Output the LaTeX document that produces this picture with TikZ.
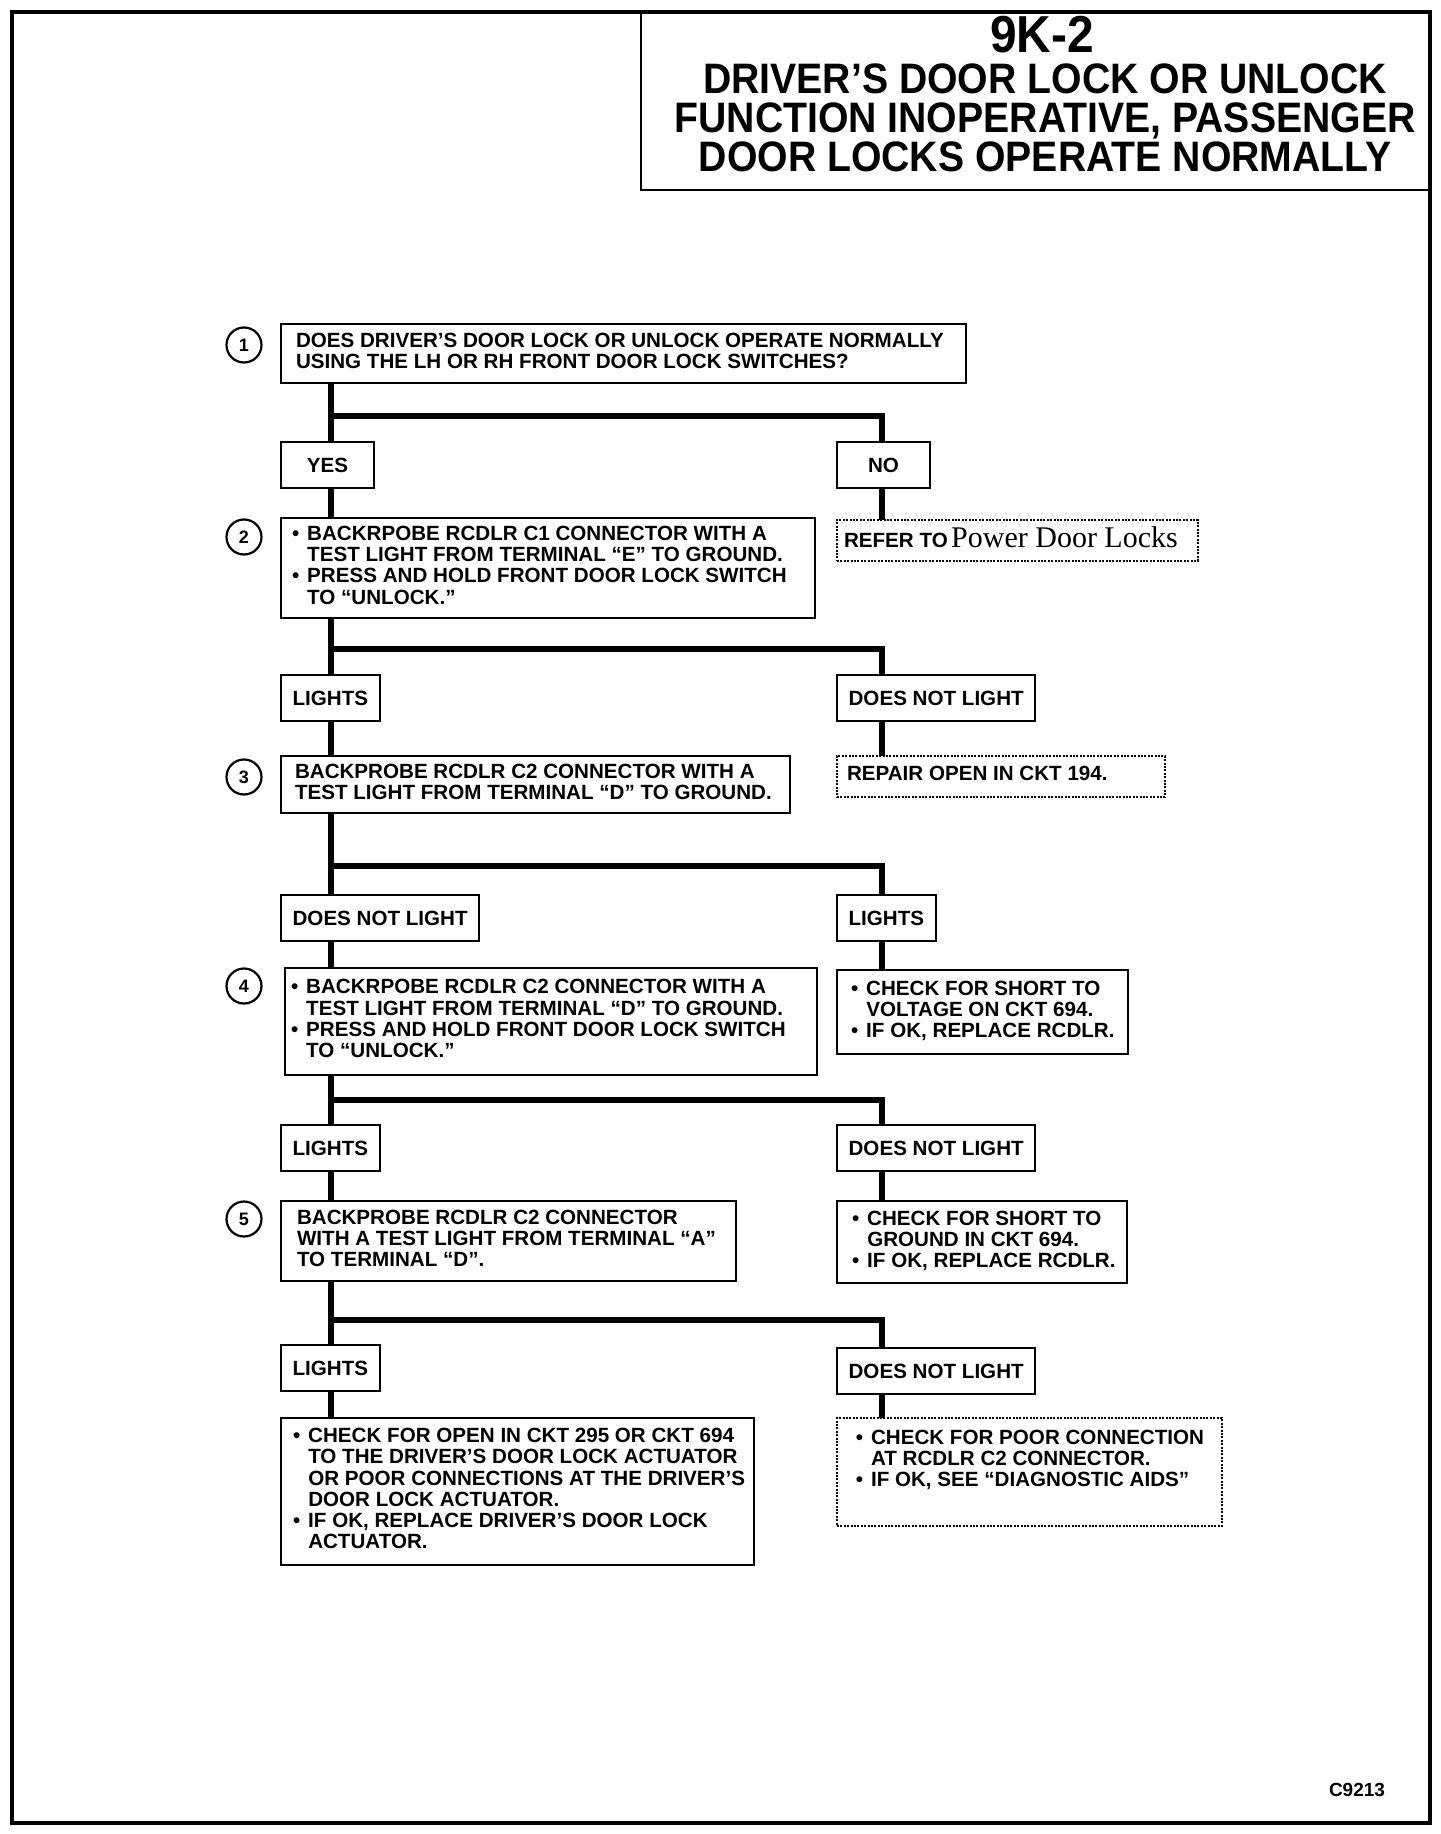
\documentclass[tikz,border=0pt]{standalone}
\usepackage{fontspec}
\setmainfont{Liberation Sans}
\newfontfamily\ttlfont[FakeStretch=0.92]{Liberation Sans}
\newfontfamily\pdlfont{Liberation Serif}
\usetikzlibrary{positioning,calc}
\newcommand{\bul}{\makebox[0.74em][l]{\textbullet}}
\newcommand{\ind}{\hspace*{0.74em}}
\newcommand{\boxlines}[2]{\makebox[#1][l]{\begin{tabular}{@{}l@{}}#2\end{tabular}}}
\tikzset{
  body/.style   ={font=\bfseries\fontsize{10.3}{10.6}\selectfont},
  qbox/.style   ={draw, line width=1.1pt, anchor=north west, body, outer sep=0pt},
  lblbox/.style ={draw, line width=1.1pt, anchor=north west, body, outer sep=0pt,
                  minimum height=23pt, minimum width=46.5pt, inner xsep=5.8pt},
  dotbox/.style ={qbox, line width=1pt, dash pattern=on 1pt off 0.7pt},
  numc/.style   ={draw, circle, line width=1.1pt, minimum size=17.5pt,
                  inner sep=0pt, font=\bfseries\fontsize{9}{9}\selectfont},
  ttl/.style    ={inner sep=0pt, font=\ttlfont\bfseries\fontsize{#1}{19.5}\selectfont},
  conn/.style   ={line width=2.8pt},
}
\begin{document}
\begin{tikzpicture}[x=1pt,y=-1pt]
  \useasboundingbox (0,0) rectangle (720,917);
  \draw[line width=2pt] (6,6) rectangle (715,911.5);

  % title block
  \node[draw, line width=1pt, anchor=north east, minimum width=394.5pt,
        minimum height=89pt, outer sep=0pt] (ttlbox) at (715,6) {};
  \node[ttl=26] (ttlnum) at (521,17.5) {9K-2};
  \node[ttl=21.3, align=center] (ttltxt) at (522.5,59)
        {DRIVER’S DOOR LOCK OR UNLOCK\\FUNCTION INOPERATIVE, PASSENGER\\
         DOOR LOCKS OPERATE NORMALLY};

  \coordinate (L)  at (165.5,0);
  \coordinate (R)  at (441,0);
  \coordinate (RB) at (418.5,0);
  \coordinate (NC) at (122,0);

  % left column
  \node[qbox, inner xsep=7.5pt, minimum height=29.5pt] (q1) at (140.5,162)
        {\boxlines{327.5pt}{DOES DRIVER’S DOOR LOCK OR UNLOCK OPERATE NORMALLY\\
         USING THE LH OR RH FRONT DOOR LOCK SWITCHES?}};
  \node[lblbox, below=29.5pt of q1.south west, anchor=north west] (yes) {YES};
  \node[qbox, inner xsep=5.5pt, minimum height=50pt,
        below=15pt of yes.south west, anchor=north west] (q2)
        {\boxlines{256pt}{\bul BACKRPOBE RCDLR C1 CONNECTOR WITH A\\
         \ind TEST LIGHT FROM TERMINAL “E” TO GROUND.\\
         \bul PRESS AND HOLD FRONT DOOR LOCK SWITCH\\
         \ind TO “UNLOCK.”}};
  \node[lblbox, below=28.5pt of q2.south west, anchor=north west] (lt1) {LIGHTS};
  \node[qbox, inner xsep=7pt, minimum height=28.5pt,
        below=17.5pt of lt1.south west, anchor=north west] (q3)
        {\boxlines{240.5pt}{BACKPROBE RCDLR C2 CONNECTOR WITH A\\
         TEST LIGHT FROM TERMINAL “D” TO GROUND.}};
  \node[lblbox, below=41pt of q3.south west, anchor=north west] (dnl2) {DOES NOT LIGHT};
  \node[qbox, inner xsep=3pt, minimum height=53.5pt,
        below=13.5pt of dnl2.south west, anchor=north west, xshift=2pt] (q4)
        {\boxlines{260pt}{\bul BACKRPOBE RCDLR C2 CONNECTOR WITH A\\
         \ind TEST LIGHT FROM TERMINAL “D” TO GROUND.\\
         \bul PRESS AND HOLD FRONT DOOR LOCK SWITCH\\
         \ind TO “UNLOCK.”}};
  \node[lblbox, below=25pt of q4.south west, anchor=north west, xshift=-2pt] (lt3) {LIGHTS};
  \node[qbox, inner xsep=8pt, minimum height=40pt,
        below=15pt of lt3.south west, anchor=north west] (q5)
        {\boxlines{211.5pt}{BACKPROBE RCDLR C2 CONNECTOR\\
         WITH A TEST LIGHT FROM TERMINAL “A”\\
         TO TERMINAL “D”.}};
  \node[lblbox, below=32pt of q5.south west, anchor=north west] (lt4) {LIGHTS};
  \node[qbox, inner xsep=6pt, minimum height=73.5pt,
        below=13.5pt of lt4.south west, anchor=north west] (fixl)
        {\boxlines{224.5pt}{\bul CHECK FOR OPEN IN CKT 295 OR CKT 694\\
         \ind TO THE DRIVER’S DOOR LOCK ACTUATOR\\
         \ind OR POOR CONNECTIONS AT THE DRIVER’S\\
         \ind DOOR LOCK ACTUATOR.\\
         \bul IF OK, REPLACE DRIVER’S DOOR LOCK\\
         \ind ACTUATOR.}};

  % step numbers
  \node[numc] (n1) at ($(q1.north west -| NC)+(0,10.5)$) {1};
  \node[numc] (n2) at ($(q2.north west -| NC)+(0,9.5)$) {2};
  \node[numc] (n3) at ($(q3.north west -| NC)+(0,10.5)$) {3};
  \node[numc] (n4) at ($(q4.north west -| NC)+(0,9)$) {4};
  \node[numc] (n5) at ($(q5.north west -| NC)+(0,9)$) {5};

  % right column
  \node[lblbox] (no) at (yes.north west -| RB) {NO};
  \node[dotbox, inner xsep=3.5pt, minimum height=17.5pt] (refer)
        at ($(q2.north west -| RB)+(0,1)$)
        {\boxlines{173.5pt}{REFER TO\,{\pdlfont\mdseries\fontsize{15}{15}\selectfont Power Door Locks}}};
  \node[lblbox] (dnl1) at (lt1.north west -| RB) {DOES NOT LIGHT};
  \node[dotbox, inner xsep=5pt, minimum height=20.5pt] (repair)
        at (q3.north west -| RB) {\boxlines{154pt}{REPAIR OPEN IN CKT 194.}};
  \node[lblbox] (lt2) at (dnl2.north west -| RB) {LIGHTS};
  \node[qbox, inner xsep=7pt, minimum height=42pt] (volt)
        at ($(q4.north west -| RB)+(0,1)$)
        {\boxlines{131.5pt}{\bul CHECK FOR SHORT TO\\\ind VOLTAGE ON CKT 694.\\
         \bul IF OK, REPLACE RCDLR.}};
  \node[lblbox] (dnl3) at (lt3.north west -| RB) {DOES NOT LIGHT};
  \node[qbox, inner xsep=7.5pt, minimum height=41pt] (gnd)
        at (q5.north west -| RB)
        {\boxlines{130pt}{\bul CHECK FOR SHORT TO\\\ind GROUND IN CKT 694.\\
         \bul IF OK, REPLACE RCDLR.}};
  \node[lblbox] (dnl4) at ($(lt4.north west -| RB)+(0,1.5)$) {DOES NOT LIGHT};
  \node[dotbox, inner xsep=9.4pt, minimum height=54pt] (poor)
        at (fixl.north west -| RB)
        {\boxlines{173.7pt}{\bul CHECK FOR POOR CONNECTION\\\ind AT RCDLR C2 CONNECTOR.\\
         \bul IF OK, SEE “DIAGNOSTIC AIDS”\\ \mbox{}}};

  \node[font=\bfseries\fontsize{9.5}{9.5}\selectfont] (code) at (678.5,895) {C9213};

  % connectors
  \draw[conn](q1.south -| L)--(yes.north -| L);\draw[conn](q1.south -| L)++(0,16.5)-|(no.north -| R);
  \draw[conn](yes.south -| L)--(q2.north -| L);\draw[conn](no.south -| R)--(refer.north -| R);
  \draw[conn](q2.south -| L)--(lt1.north -| L);\draw[conn](q2.south -| L)++(0,15.5)-|(dnl1.north -| R);
  \draw[conn](lt1.south -| L)--(q3.north -| L);\draw[conn](dnl1.south -| R)--(repair.north -| R);
  \draw[conn](q3.south -| L)--(dnl2.north -| L);\draw[conn](q3.south -| L)++(0,26.5)-|(lt2.north -| R);
  \draw[conn](dnl2.south -| L)--(q4.north -| L);\draw[conn](lt2.south -| R)--(volt.north -| R);
  \draw[conn](q4.south -| L)--(lt3.north -| L);\draw[conn](q4.south -| L)++(0,12.5)-|(dnl3.north -| R);
  \draw[conn](lt3.south -| L)--(q5.north -| L);\draw[conn](dnl3.south -| R)--(gnd.north -| R);
  \draw[conn](q5.south -| L)--(lt4.north -| L);\draw[conn](q5.south -| L)++(0,19.5)-|(dnl4.north -| R);
  \draw[conn](lt4.south -| L)--(fixl.north -| L);\draw[conn](dnl4.south -| R)--(poor.north -| R);
\end{tikzpicture}
\end{document}
